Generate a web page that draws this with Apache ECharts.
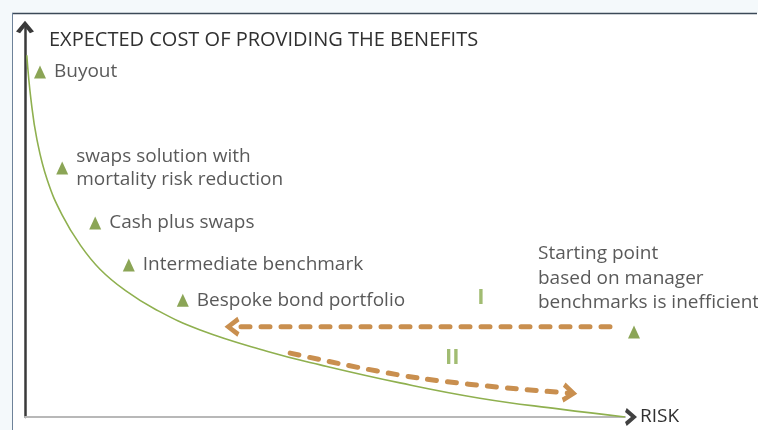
<!DOCTYPE html>
<html>
<head>
<meta charset="utf-8">
<script src="https://cdn.jsdelivr.net/npm/echarts@6/dist/echarts.min.js"></script>
<style>
  html, body { margin: 0; padding: 0; background: #f4f9fb; }
  #chart { width: 758px; height: 430px; }
</style>
</head>
<body>
<div id="chart"></div>
<script>
// Efficient frontier: expected cost against risk (both on a 0-100 relative scale)
const frontierRisk = [0.3, 1, 2, 3.7, 6.2, 9.2, 12.5, 16.7, 21.7, 29.2, 40.3, 49.2, 62.5, 75.8, 89.2, 100];
const frontierCost = [92.3, 80.9, 70.7, 60.5, 51.5, 43.9, 37.7, 32.3, 27.5, 22.2, 16.8, 13.3, 8.7, 4.8, 2.0, 0];

// Strategies lying on (or near) the frontier
const strategyNames = ['Buyout', 'swaps solution with\nmortality risk reduction', 'Cash plus swaps', 'Intermediate benchmark', 'Bespoke bond portfolio'];
const strategyRisk = [2.5, 6.2, 11.7, 17.3, 26.3];
const strategyCost = [88, 63.5, 49.5, 38.8, 29.8];

// Inefficient starting point
const startName = 'Starting point\nbased on manager\nbenchmarks is inefficient';
const startRisk = [101.5];
const startCost = [21.7];

// Move I: lower cost at the same risk; move II: lower cost and more risk
const moveIRisk = [97.5, 34.5];
const moveICost = [23, 23];
const moveIIRisk = [44.2, 65.8, 90.8];
const moveIICost = [16.3, 9.9, 6.1];
const moveLabels = ['I', 'II'];
const moveLabelRisk = [76, 71.2];
const moveLabelCost = [30.4, 15];

const axisTitleY = 'EXPECTED COST OF PROVIDING THE BENEFITS';
const axisTitleX = 'RISK';

const FONT = '"Open Sans", sans-serif';
const TEXT = '#303030';
const GREEN = '#6e8f2c';
const CURVE = '#8fb04f';
const ORANGE = '#c98f4f';
const CHEVRON = 'path://M0,12 L10,0 L20,12 L15.5,14 L10,7 L4.5,14 Z';

const chart = echarts.init(document.getElementById('chart'), null, { renderer: 'canvas' });

const pairs = (xs, ys) => xs.map((x, i) => [x, ys[i]]);

chart.setOption({
  backgroundColor: 'transparent',
  animation: false,
  graphic: [
    { type: 'rect', z: -10, shape: { x: 12, y: 13, width: 746, height: 417 }, style: { fill: '#ffffff' } },
    { type: 'line', z: -9, shape: { x1: 12, y1: 13.5, x2: 757, y2: 13.5 }, style: { stroke: '#3b4957', lineWidth: 1.5 } },
    { type: 'line', z: -9, shape: { x1: 12.5, y1: 13, x2: 12.5, y2: 430 }, style: { stroke: '#6e8299', lineWidth: 1 } }
  ],
  title: {
    text: axisTitleY,
    left: 44,
    top: 25,
    textStyle: { fontFamily: FONT, fontSize: 20, fontWeight: 'normal', color: TEXT }
  },
  grid: { left: 25, top: 25, width: 600, height: 392 },
  xAxis: {
    type: 'value', min: 0, max: 100,
    name: axisTitleX, nameLocation: 'end', nameGap: 15,
    nameTextStyle: { fontFamily: FONT, fontSize: 19, color: TEXT, verticalAlign: 'middle' },
    axisLine: { lineStyle: { color: '#b8b8b8', width: 2 } },
    axisTick: { show: false }, axisLabel: { show: false }, splitLine: { show: false }
  },
  yAxis: {
    type: 'value', min: 0, max: 100,
    axisLine: { lineStyle: { color: '#3a3a3a', width: 2.5 }, symbol: ['none', CHEVRON], symbolSize: [18, 13], symbolOffset: [0, -2] },
    axisTick: { show: false }, axisLabel: { show: false }, splitLine: { show: false }
  },
  series: [
    {
      name: 'frontier', type: 'line', smooth: 0.45, showSymbol: false,
      data: pairs(frontierRisk, frontierCost),
      lineStyle: { color: CURVE, width: 1.6 }, z: 2
    },
    {
      name: 'strategies', type: 'scatter', symbol: 'triangle', symbolSize: [12, 13],
      itemStyle: { color: GREEN },
      data: pairs(strategyRisk, strategyCost).map((v, i) => ({ value: v, name: strategyNames[i] })),
      label: {
        show: true, position: 'right', distance: 8, formatter: p => p.name,
        fontFamily: FONT, fontSize: 19, color: TEXT, lineHeight: 23
      }, z: 5
    },
    {
      name: 'start', type: 'scatter', symbol: 'triangle', symbolSize: [12, 13], clip: false,
      itemStyle: { color: GREEN },
      data: pairs(startRisk, startCost).map(v => ({ value: v, name: startName })),
      label: {
        show: true, position: [-90, -84], align: 'left', verticalAlign: 'top',
        formatter: p => p.name, fontFamily: FONT, fontSize: 19, color: TEXT, lineHeight: 24.5
      }, z: 5
    },
    {
      name: 'move I', type: 'line', clip: false,
      data: pairs(moveIRisk, moveICost).map((v, i, a) => i === a.length - 1
        ? { value: v, symbol: CHEVRON, symbolSize: [20, 15], symbolRotate: 90 }
        : { value: v, symbol: 'none' }),
      showAllSymbol: true,
      itemStyle: { color: ORANGE },
      lineStyle: { color: ORANGE, width: 5, type: [9, 11], cap: 'round' }, z: 4
    },
    {
      name: 'move II', type: 'line', smooth: 0.4, clip: false,
      data: pairs(moveIIRisk, moveIICost).map((v, i, a) => i === a.length - 1
        ? { value: v, symbol: CHEVRON, symbolSize: [20, 15], symbolRotate: -96 }
        : { value: v, symbol: 'none' }),
      showAllSymbol: true,
      itemStyle: { color: ORANGE },
      lineStyle: { color: ORANGE, width: 5, type: [9, 11], cap: 'round' }, z: 4
    },
    {
      name: 'move labels', type: 'scatter', symbolSize: 0,
      data: pairs(moveLabelRisk, moveLabelCost).map((v, i) => ({ value: v, name: moveLabels[i] })),
      label: {
        show: true, position: 'inside', formatter: p => p.name,
        fontFamily: FONT, fontSize: 22, fontWeight: 'bold', color: '#8aab4f'
      }, z: 5
    },
    {
      name: 'risk arrow', type: 'scatter', clip: false, silent: true,
      data: [{ value: [101, 0], symbol: CHEVRON, symbolSize: [18, 12], symbolRotate: -90 }],
      itemStyle: { color: '#111111' }, z: 6
    }
  ]
});
</script>
</body>
</html>
